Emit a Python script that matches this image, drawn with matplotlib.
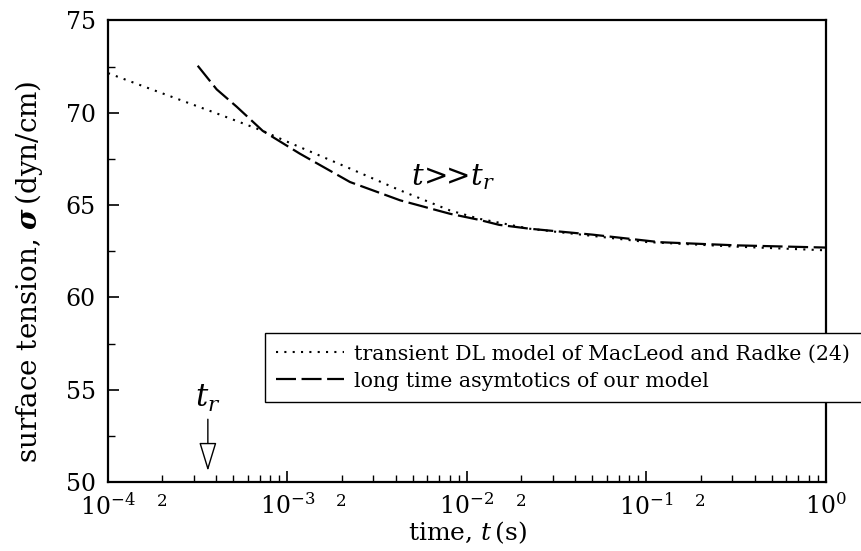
import matplotlib
matplotlib.use("Agg")
import matplotlib.pyplot as plt
from matplotlib.ticker import LogLocator, LogFormatterMathtext, FuncFormatter, MultipleLocator, NullFormatter
import numpy as np

plt.rcParams['font.family'] = ['DejaVu Serif']
plt.rcParams['mathtext.fontset'] = 'dejavuserif'

# MacLeod & Radke transient DL model (dotted)
t_dl = [1e-4, 2e-4, 4e-4, 7.28e-4, 9.5e-4, 2.23e-3, 4.24e-3, 8.04e-3, 1.17e-2,
        2.24e-2, 3.16e-2, 0.1, 0.316, 1.0]
s_dl = [72.15, 71.06, 69.98, 69.02, 68.52, 66.98, 65.8, 64.71, 64.26,
        63.72, 63.55, 63.0, 62.75, 62.55]

# long time asymptotics of our model (dashed)
t_lt = [3.16e-4, 4.03e-4, 5.21e-4, 7.28e-4, 1.17e-3, 2.23e-3, 4.24e-3, 8.04e-3,
        1.17e-2, 1.51e-2, 2.24e-2, 5.0e-2, 0.119, 0.316, 1.0]
s_lt = [72.55, 71.27, 70.33, 69.02, 67.79, 66.25, 65.26, 64.53,
        64.2, 63.93, 63.72, 63.4, 62.99, 62.82, 62.7]

legend_labels = ["transient DL model of MacLeod and Radke (24)",
                 "long time asymtotics of our model"]

t_r = 3.6e-4

fig = plt.figure(figsize=(8.62, 5.51), dpi=100)
ax = fig.add_axes([0.1253, 0.1252, 0.9582 - 0.1253, 0.9628 - 0.1252])

ax.plot(t_dl, s_dl, color='black', lw=1.5, linestyle=(0, (1, 3.0)), label=legend_labels[0])
ax.plot(t_lt, s_lt, color='black', lw=1.6, linestyle=(0, (9, 2.5)), label=legend_labels[1])

ax.set_xscale('log')
ax.set_xlim(1e-4, 1.0)
ax.set_ylim(50, 75)

ax.xaxis.set_major_locator(LogLocator(base=10, numticks=10))
ax.xaxis.set_major_formatter(LogFormatterMathtext())
ax.xaxis.set_minor_locator(LogLocator(base=10, subs=np.arange(2, 10), numticks=20))

def minor_fmt(x, pos):
    m = x / 10 ** np.floor(np.log10(x) + 1e-9)
    return '2' if abs(m - 2) < 1e-6 else ''

ax.xaxis.set_minor_formatter(FuncFormatter(minor_fmt))
ax.yaxis.set_major_locator(MultipleLocator(5))
ax.yaxis.set_minor_locator(MultipleLocator(2.5))
ax.yaxis.set_minor_formatter(NullFormatter())

ax.tick_params(axis='both', which='major', direction='in', length=8, width=1.2,
               labelsize=17, top=False, right=False)
ax.tick_params(axis='both', which='minor', direction='in', length=5, width=1.0,
               top=False, right=False)
ax.tick_params(axis='x', which='minor', labelsize=12, pad=8)
ax.tick_params(axis='x', which='major', pad=8)
ax.tick_params(axis='y', which='major', pad=9)

for sp in ax.spines.values():
    sp.set_linewidth(1.6)

ax.set_xlabel(r'time, $t\,$(s)', fontsize=18, labelpad=0)
ax.set_ylabel(r'surface tension, $\boldsymbol{\sigma}\,$(dyn/cm)', fontsize=20)
ax.yaxis.set_label_coords(-0.088, 0.455)

ax.text(4.9e-3, 66.5, r'$t\!>\!\!\!>\!t_r$', fontsize=21, ha='left', va='center')
ax.text(t_r, 54.5, r'$t_r$', fontsize=22, ha='center', va='center')
ax.annotate('', xy=(t_r, 50.6), xytext=(t_r, 53.4),
            arrowprops=dict(arrowstyle='-|>,head_length=1.8,head_width=0.55',
                            fc='white', ec='black', lw=1.0, shrinkA=0, shrinkB=0,
                            mutation_scale=10))

leg = ax.legend(loc='upper left', bbox_to_anchor=(0.2187, 0.3229), fontsize=14.8,
                frameon=True, fancybox=False, edgecolor='black', framealpha=1,
                handlelength=3.3, borderaxespad=0, handletextpad=0.5,
                borderpad=0.55, labelspacing=0.4)
leg.get_frame().set_linewidth(1.0)

fig.savefig('out.png', dpi=100)
